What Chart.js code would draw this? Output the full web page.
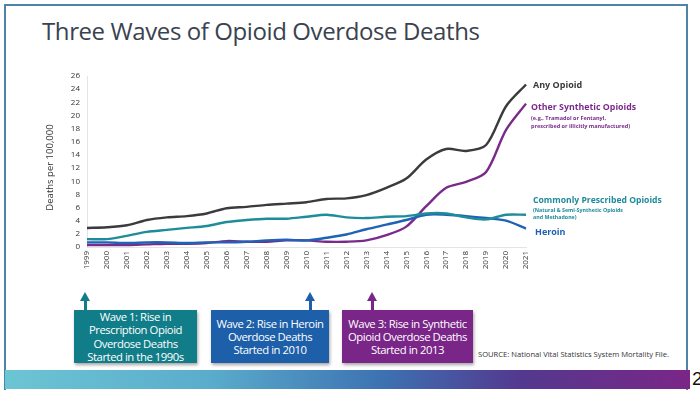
<!DOCTYPE html>
<html>
<head>
<meta charset="utf-8">
<script src="https://cdn.jsdelivr.net/npm/chart.js@4.4.1/dist/chart.umd.min.js"></script>
<style>
  html, body { margin: 0; padding: 0; background: #fff; }
  body { width: 700px; height: 395px; position: relative; overflow: hidden; font-family: "Open Sans", sans-serif; }
  .frame { position: absolute; left: 4px; top: 4px; width: 684px; height: 386px; border: 2px solid #4f84a8; border-bottom: none; box-sizing: border-box; }
  .title { position: absolute; left: 42px; top: 14px; font-size: 24px; font-weight: 500; color: #3a4250; letter-spacing: -0.4px; }
  .bar { position: absolute; left: 5px; top: 370px; width: 685px; height: 19px;
         background: linear-gradient(to right, #6cc5d3 0%, #5aaccc 30%, #3d72b2 55%, #53398f 75%, #7b2687 100%); }
  .pagenum { position: absolute; left: 692px; top: 368px; font-family: "Liberation Sans", sans-serif; font-size: 19px; color: #111; }
  .box { position: absolute; top: 310px; height: 53px; color: #fff; font-size: 11.3px; line-height: 13.3px; letter-spacing: -0.45px;
         text-align: center; display: flex; align-items: center; justify-content: center; box-shadow: 1px 2px 3px rgba(0,0,0,0.35); }
  .arrow { position: absolute; width: 3px; }
  .arrow::before { content: ""; position: absolute; left: -4px; top: -8px; border-left: 5.5px solid transparent; border-right: 5.5px solid transparent; border-bottom: 9px solid; border-bottom-color: inherit; }
  .source { position: absolute; left: 478px; top: 349px; font-size: 7.6px; color: #333; }
  canvas { position: absolute; left: 0; top: 0; }
</style>
</head>
<body>
<div class="frame"></div>
<div class="title">Three Waves of Opioid Overdose Deaths</div>

<div class="arrow" style="left:84px; top:300px; height:10px; background:#117d88; border-color:#117d88;"></div>
<div class="arrow" style="left:309px; top:300px; height:10px; background:#1e5fa9; border-color:#1e5fa9;"></div>
<div class="arrow" style="left:371px; top:300px; height:10px; background:#7a2688; border-color:#7a2688;"></div>

<div class="box" style="left:74px; width:123px; background:#117d88;">Wave 1: Rise in<br>Prescription Opioid<br>Overdose Deaths<br>Started in the 1990s</div>
<div class="box" style="left:211px; width:118px; background:#1e5fa9;">Wave 2: Rise in Heroin<br>Overdose Deaths<br>Started in 2010</div>
<div class="box" style="left:342px; width:131px; background:#7a2688;">Wave 3: Rise in Synthetic<br>Opioid Overdose Deaths<br>Started in 2013</div>

<div class="source">SOURCE: National Vital Statistics System Mortality File.</div>
<div class="bar"></div>
<div class="pagenum">2</div>

<canvas id="opioidChart" width="700" height="395"></canvas>

<script>
// data
var years = ['1999', '2000', '2001', '2002', '2003', '2004', '2005', '2006', '2007', '2008', '2009', '2010',
             '2011', '2012', '2013', '2014', '2015', '2016', '2017', '2018', '2019', '2020', '2021'];
var anyOpioid = [2.9, 3.0, 3.3, 4.1, 4.5, 4.7, 5.1, 5.9, 6.1, 6.4, 6.6, 6.8, 7.3, 7.4, 7.9, 9.0, 10.4, 13.3, 14.9, 14.6, 15.5, 21.4, 24.7];
var otherSynthetic = [0.3, 0.3, 0.3, 0.4, 0.5, 0.5, 0.6, 0.9, 0.8, 0.8, 1.0, 1.0, 0.8, 0.8, 1.0, 1.8, 3.1, 6.2, 9.0, 9.9, 11.4, 17.8, 21.8];
var commonlyPrescribed = [1.2, 1.2, 1.7, 2.3, 2.6, 2.9, 3.2, 3.8, 4.1, 4.3, 4.3, 4.6, 4.9, 4.5, 4.4, 4.6, 4.7, 5.1, 5.1, 4.5, 4.2, 4.9, 4.9];
var heroin = [0.7, 0.7, 0.6, 0.7, 0.7, 0.6, 0.7, 0.7, 0.8, 1.0, 1.1, 1.0, 1.4, 1.9, 2.7, 3.4, 4.1, 4.9, 4.9, 4.7, 4.4, 4.0, 2.8];
var yTicks = [0, 2, 4, 6, 8, 10, 12, 14, 16, 18, 20, 22, 24, 26];

var FONT = '"Open Sans", sans-serif';

// series labels at the right end of each line, plus the y axis title
var sideLabels = {
    id: 'sideLabels',
    afterDraw: function(chart) {
        var ctx = chart.ctx;
        var area = chart.chartArea;
        var y = chart.scales.y;
        var x0 = area.right + 7;
        var last = years.length - 1;
        ctx.save();
        ctx.textBaseline = 'middle';
        ctx.textAlign = 'left';

        ctx.fillStyle = '#3a3a3c';
        ctx.font = 'bold 9px ' + FONT;
        ctx.fillText('Any Opioid', x0, y.getPixelForValue(anyOpioid[last]) + 1);

        var yo = y.getPixelForValue(otherSynthetic[last]) + 4;
        ctx.fillStyle = '#7b2a8b';
        ctx.font = 'bold 8.8px ' + FONT;
        ctx.fillText('Other Synthetic Opioids', x0 - 2, yo);
        ctx.font = 'bold 5.5px ' + FONT;
        ctx.fillText('(e.g., Tramadol or Fentanyl,', x0 - 2, yo + 11);
        ctx.fillText('prescribed or illicitly manufactured)', x0 - 2, yo + 19);

        var yc = y.getPixelForValue(commonlyPrescribed[last]) - 14;
        ctx.fillStyle = '#1f8a9a';
        ctx.font = 'bold 8.6px ' + FONT;
        ctx.fillText('Commonly Prescribed Opioids', x0, yc);
        ctx.font = 'bold 5.3px ' + FONT;
        ctx.fillText('(Natural & Semi-Synthetic Opioids', x0, yc + 10);
        ctx.fillText('and Methadone)', x0, yc + 17);

        ctx.fillStyle = '#1f62b0';
        ctx.font = 'bold 9px ' + FONT;
        ctx.fillText('Heroin', x0 + 2, y.getPixelForValue(heroin[last]) + 4);

        // axis title
        ctx.translate(50, (area.top + area.bottom) / 2 + 6);
        ctx.rotate(-Math.PI / 2);
        ctx.textAlign = 'center';
        ctx.fillStyle = '#333';
        ctx.font = '9.5px ' + FONT;
        ctx.fillText('Deaths per 100,000', 0, 0);
        ctx.restore();
    }
};

function series(label, data, color) {
    return {
        label: label,
        data: data,
        borderColor: color,
        backgroundColor: color,
        borderWidth: 2.4,
        pointRadius: 0,
        tension: 0.3,
        fill: false
    };
}

var opioidCtx = document.getElementById('opioidChart').getContext('2d');
window.opioidLine = new Chart(opioidCtx, {
    type: 'line',
    data: {
        labels: years,
        datasets: [
            series('Commonly Prescribed Opioids', commonlyPrescribed, '#1e8c99'),
            series('Heroin', heroin, '#1f63b6'),
            series('Other Synthetic Opioids', otherSynthetic, '#7a2a8a'),
            series('Any Opioid', anyOpioid, '#3b3b3f')
        ]
    },
    options: {
        responsive: false,
        animation: false,
        layout: { padding: { left: 42, right: 174, top: 76, bottom: 118 } },
        plugins: {
            legend: { display: false },
            title: { display: false },
            tooltip: { enabled: false }
        },
        scales: {
            x: {
                grid: { display: false, drawTicks: false },
                border: { color: '#e4e4e4' },
                ticks: {
                    autoSkip: false, minRotation: 90, maxRotation: 90, padding: 4,
                    color: '#333', font: { family: FONT, size: 8 }
                },
                afterFit: function(scale) { scale.height = 30; }
            },
            y: {
                min: 0, max: 26,
                grid: { display: false, drawTicks: false },
                border: { color: '#e4e4e4' },
                afterBuildTicks: function(scale) {
                    scale.ticks = yTicks.map(function(v) { return { value: v }; });
                },
                ticks: { padding: 7, color: '#333', font: { family: FONT, size: 8 } },
                afterFit: function(scale) { scale.width = 45; }
            }
        }
    },
    plugins: [sideLabels]
});
</script>
</body>
</html>
